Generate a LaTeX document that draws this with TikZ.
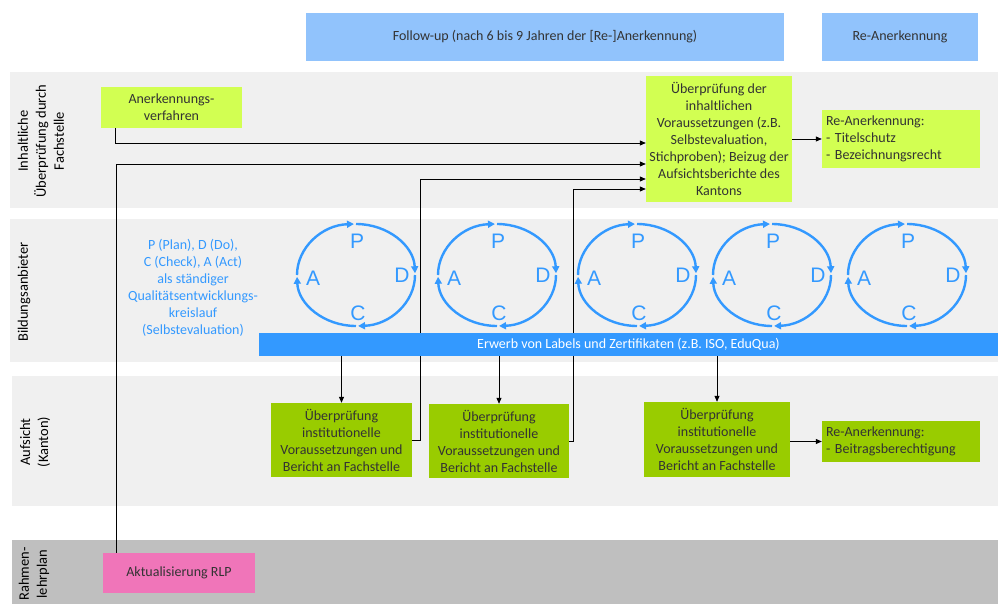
\documentclass[tikz,border=0pt]{standalone}
\usepackage{fontspec}
\setmainfont{Carlito}
\newfontfamily\arialf{Liberation Sans}
\usetikzlibrary{arrows.meta}
\definecolor{hdrblue}{HTML}{91C3FC}
\definecolor{lanegray}{HTML}{F0F0F0}
\definecolor{rlpgray}{HTML}{BFBFBF}
\definecolor{mylime}{HTML}{D2FF52}
\definecolor{mygreen}{HTML}{99CC00}
\definecolor{myblue}{HTML}{3399FF}
\definecolor{mypink}{HTML}{F075B9}
\definecolor{txt}{HTML}{333333}
\pgfdeclarelayer{bands}
\pgfdeclarelayer{lines}
\pgfsetlayers{bands,lines,main}
\begin{document}
\begin{tikzpicture}[x=1pt,y=-1pt,
  box/.style={draw=none, inner sep=2pt, align=center, text=txt, font=\fontsize{14}{17}\selectfont},
  arr/.style={-{Triangle[length=6pt,width=5pt]}, line width=0.8pt, draw=black},
  pd/.style={draw=myblue, line width=2.4pt, -{Triangle[length=7pt,width=7pt]}},
  letter/.style={text=myblue, font=\arialf\fontsize{21}{21}\selectfont, inner sep=0pt},
  lanelab/.style={rotate=90, align=center, text=black, font=\fontsize{14.5}{18}\selectfont}
]
\useasboundingbox (0,0) rectangle (998,604);

% lanes
\begin{pgfonlayer}{bands}
\fill[lanegray] (10,72) rectangle (998,208);
\fill[lanegray] (10,219) rectangle (998,362);
\fill[lanegray] (12,376) rectangle (998,506);
\fill[rlpgray] (12,540) rectangle (998,604);
\end{pgfonlayer}

% headers
\node[box, fill=hdrblue, minimum width=478pt, minimum height=48pt] (hdr1) at (545,37) {Follow-up (nach 6 bis 9 Jahren der [Re-]Anerkennung)};
\node[box, fill=hdrblue, minimum width=156pt, minimum height=48pt] (hdr2) at (900,37) {Re-Anerkennung};

% lane labels
\node[lanelab] (lab1) at (41,141) {Inhaltliche\\Überprüfung durch\\Fachstelle};
\node[lanelab] (lab2) at (24,292) {Bildungsanbieter};
\node[lanelab] (lab3) at (35,442) {Aufsicht\\(Kanton)};
\node[lanelab] (lab4) at (34,574) {Rahmen-\\lehrplan};

% lane 1
\node[box, fill=mylime, minimum width=141pt, minimum height=41pt] (anerk) at (171.5,107.5) {Anerkennungs-\\verfahren};
\node[box, fill=mylime, minimum width=146pt, minimum height=126pt] (insp) at (719,139) {Überprüfung der\\inhaltlichen\\Voraussetzungen (z.B.\\Selbstevaluation,\\Stichproben); Beizug der\\Aufsichtsberichte des\\Kantons};
\node[box, fill=mylime, minimum width=158pt, minimum height=58pt, text width=150pt, align=left, inner xsep=4pt] (reanerk1) at (901,139) {Re-Anerkennung:\\- Titelschutz\\- Bezeichnungsrecht};

% lane 2
\node[box, text=myblue] (pdcatext) at (193,288) {P (Plan), D (Do),\\C (Check), A (Act)\\als ständiger\\Qualitätsentwicklungs-\\kreislauf\\(Selbstevaluation)};
\foreach \cx [count=\i] in {356,497,637,772,907} {
  \coordinate (pd\i) at (\cx,275);
  \draw[pd] (pd\i) ++(-90:59 and 51) arc[start angle=-90, end angle=-2, x radius=59, y radius=51];
  \draw[pd] (pd\i) ++(0:59 and 51) arc[start angle=0, end angle=88, x radius=59, y radius=51];
  \draw[pd] (pd\i) ++(90:59 and 51) arc[start angle=90, end angle=178, x radius=59, y radius=51];
  \draw[pd] (pd\i) ++(180:59 and 51) arc[start angle=180, end angle=268, x radius=59, y radius=51];
  \node[letter] (p\i) at ([xshift=1pt,yshift=34pt]pd\i) {P};
  \node[letter] (d\i) at ([xshift=46pt]pd\i) {D};
  \node[letter] (c\i) at ([xshift=2pt,yshift=-38pt]pd\i) {C};
  \node[letter] (a\i) at ([xshift=-43pt,yshift=-3pt]pd\i) {A};
}
\node[box, fill=myblue, text=white, minimum width=739pt, minimum height=23pt, inner sep=0pt] (bar) at (628.5,344.5) {Erwerb von Labels und Zertifikaten (z.B. ISO, EduQua)};

% lane 3
\node[box, fill=mygreen, minimum width=141pt, minimum height=74pt] (ins1) at (341.5,440) {Überprüfung\\institutionelle\\Voraussetzungen und\\Bericht an Fachstelle};
\node[box, fill=mygreen, minimum width=140pt, minimum height=74pt] (ins2) at (499,441) {Überprüfung\\institutionelle\\Voraussetzungen und\\Bericht an Fachstelle};
\node[box, fill=mygreen, minimum width=146pt, minimum height=75pt] (ins3) at (717,439.5) {Überprüfung\\institutionelle\\Voraussetzungen und\\Bericht an Fachstelle};
\node[box, fill=mygreen, minimum width=158pt, minimum height=41pt, text width=150pt, align=left, inner xsep=4pt] (reanerk2) at (901,441.5) {Re-Anerkennung:\\- Beitragsberechtigung};

% lane 4
\node[box, fill=mypink, minimum width=152pt, minimum height=40pt] (rlp) at (179,573) {Aktualisierung RLP};

% connectors
\begin{pgfonlayer}{lines}
\draw[arr] ([xshift=15pt]anerk.south west) |- (insp.west |- 0,143);
\draw[arr] ([xshift=14pt]rlp.north west) |- (insp.west |- 0,164);
\draw[arr] (ins1.east) -| (420,179) -- (insp.west |- 0,179);
\draw[arr] (ins2.east) -| (573,189) -- (insp.west |- 0,189);
\end{pgfonlayer}
\draw[arr] (insp.east) -- (reanerk1.west);
\draw[arr] (bar.south -| ins1.north) -- (ins1.north);
\draw[arr] (bar.south -| ins2.north) -- (ins2.north);
\draw[arr] (bar.south -| ins3.north) -- (ins3.north);
\draw[arr] (ins3.east |- reanerk2.west) -- (reanerk2.west);
\end{tikzpicture}
\end{document}
